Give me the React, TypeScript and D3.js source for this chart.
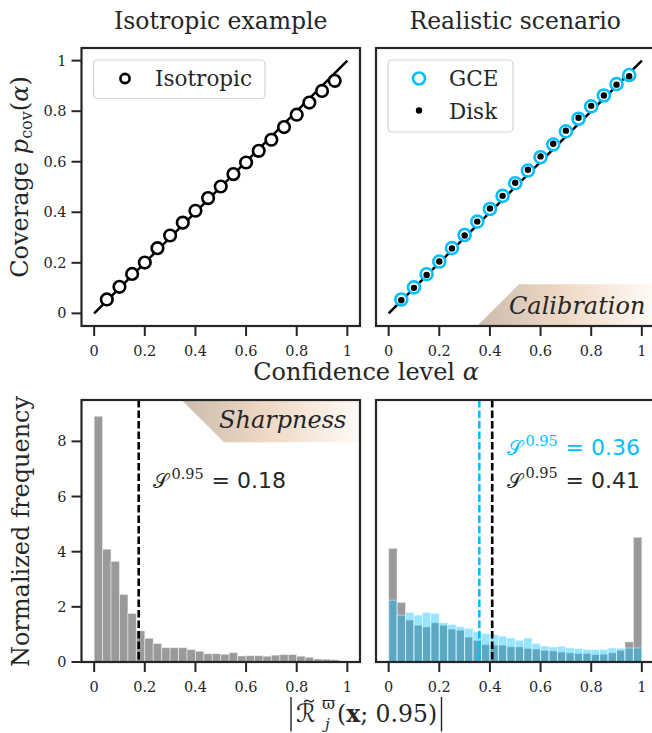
import React from 'react';
import * as d3 from 'd3';

// ---------- data ----------
const alphas = [0.05, 0.1, 0.15, 0.2, 0.25, 0.3, 0.35, 0.4, 0.45, 0.5, 0.55, 0.6, 0.65, 0.7, 0.75, 0.8, 0.85, 0.9, 0.95];
const isoCoverage = [0.055, 0.105, 0.156, 0.201, 0.258, 0.308, 0.359, 0.406, 0.456, 0.502, 0.551, 0.597, 0.643, 0.687, 0.737, 0.786, 0.834, 0.88, 0.92];
const gceCoverage = [0.055, 0.103, 0.155, 0.205, 0.258, 0.31, 0.363, 0.413, 0.465, 0.515, 0.565, 0.618, 0.668, 0.72, 0.77, 0.819, 0.862, 0.907, 0.943];
const diskCoverage = [0.052, 0.101, 0.152, 0.205, 0.257, 0.308, 0.363, 0.415, 0.465, 0.517, 0.568, 0.621, 0.671, 0.723, 0.774, 0.821, 0.862, 0.905, 0.938];

const binCount = 30;
const isoHist = [8.91, 4.09, 3.65, 2.45, 1.76, 1.13, 0.86, 0.67, 0.52, 0.52, 0.52, 0.45, 0.39, 0.3, 0.3, 0.28, 0.34, 0.22, 0.23, 0.23, 0.21, 0.25, 0.27, 0.27, 0.21, 0.17, 0.11, 0.1, 0.08, 0.04];
const diskHist = [4.12, 2.16, 1.52, 1.33, 1.27, 1.42, 1.33, 1.19, 1.15, 0.9, 0.78, 0.63, 0.61, 0.61, 0.55, 0.55, 0.49, 0.47, 0.42, 0.4, 0.36, 0.33, 0.31, 0.31, 0.27, 0.28, 0.33, 0.42, 0.73, 4.52];
const gceHist = [2.24, 1.7, 1.8, 1.7, 1.8, 1.76, 1.43, 1.36, 1.28, 1.22, 1.1, 1.03, 1.0, 0.94, 0.87, 0.79, 0.87, 0.67, 0.58, 0.55, 0.57, 0.51, 0.49, 0.45, 0.45, 0.45, 0.51, 0.5, 0.51, 0.51];

const sharpIso = 0.176;
const sharpGce = 0.358;
const sharpDisk = 0.409;

const xTicks = [0, 0.2, 0.4, 0.6, 0.8, 1];
const yTicksTop = [0, 0.2, 0.4, 0.6, 0.8, 1];
const yTicksBottom = [0, 2, 4, 6, 8];

// ---------- style ----------
const INK = '#262626';
const BLUE = '#00bfff';
const SERIF = "'DejaVu Serif', serif";
const SANS = "'DejaVu Sans', sans-serif";

const L = { x0: 81.5, x1: 360 };
const R = { x0: 376, x1: 654.5 };
const T = { y0: 48, y1: 326 };
const B = { y0: 400, y1: 662 };

const fmt = (v: number) => (v === 0 ? '0' : v === 1 ? '1' : String(v));

function XAxis({ x, y }: { x: d3.ScaleLinear<number, number>; y: number }) {
  return (
    <g>
      {xTicks.map((t) => (
        <g key={t}>
          <line x1={x(t)} x2={x(t)} y1={y} y2={y + 10} stroke={INK} strokeWidth={2} />
          <text x={x(t)} y={y + 29.5} textAnchor="middle" fontFamily={SERIF} fontSize={14.5} fill={INK}>
            {fmt(t)}
          </text>
        </g>
      ))}
    </g>
  );
}

function YAxis({ y, x, ticks }: { y: d3.ScaleLinear<number, number>; x: number; ticks: number[] }) {
  return (
    <g>
      {ticks.map((t) => (
        <g key={t}>
          <line x1={x - 10} x2={x} y1={y(t)} y2={y(t)} stroke={INK} strokeWidth={2} />
          <text x={x - 15} y={y(t) + 5} textAnchor="end" fontFamily={SERIF} fontSize={14.5} fill={INK}>
            {fmt(t)}
          </text>
        </g>
      ))}
    </g>
  );
}

function Frame({ x0, x1, y0, y1 }: { x0: number; x1: number; y0: number; y1: number }) {
  return <rect x={x0} y={y0} width={x1 - x0} height={y1 - y0} fill="none" stroke={INK} strokeWidth={2.2} />;
}

function Bars({ data, x, y, fill, opacity }: { data: number[]; x: d3.ScaleLinear<number, number>; y: d3.ScaleLinear<number, number>; fill: string; opacity: number }) {
  const edges = d3.range(binCount + 1).map((i) => i / binCount);
  return (
    <g>
      {data.map((v, i) => (
        <rect
          key={i}
          x={x(edges[i])}
          y={y(v)}
          width={x(edges[i + 1]) - x(edges[i])}
          height={y(0) - y(v)}
          fill={fill}
          fillOpacity={opacity}
          stroke="#ffffff"
          strokeOpacity={0.45}
          strokeWidth={1}
        />
      ))}
    </g>
  );
}

function SLabel({ x, y, value, color }: { x: number; y: number; value: number; color: string }) {
  return (
    <g fill={color}>
      <text x={x} y={y} fontFamily={SERIF} fontSize={20}>𝒮</text>
      <text x={x + 19} y={y - 9.5} fontFamily={SERIF} fontSize={14.5}>0.95</text>
      <text x={x + 59} y={y} fontFamily={SANS} fontSize={22}>= {value.toFixed(2)}</text>
    </g>
  );
}

export default function App() {
  const xL = d3.scaleLinear().domain([-0.05, 1.05]).range([L.x0, L.x1]);
  const xR = d3.scaleLinear().domain([-0.05, 1.05]).range([R.x0, R.x1]);
  const yT = d3.scaleLinear().domain([-0.05, 1.05]).range([T.y1, T.y0]);
  const yB = d3.scaleLinear().domain([0, 9.5]).range([B.y1, B.y0]);

  const calY0 = 284.3;
  const sharpY1 = 442.3;

  return (
    <svg width={652} height={733} style={{ position: 'absolute', left: 0, top: 0, background: '#fff' }}>
      <defs>
        <linearGradient id="tan" x1="0" x2="1" y1="0" y2="0">
          <stop offset="0" stopColor="#ccbcad" />
          <stop offset="0.5" stopColor="#efdac6" />
          <stop offset="1" stopColor="#fffaf6" />
        </linearGradient>
        <clipPath id="clipR">
          <rect x={R.x0} y={0} width={R.x1 - R.x0} height={733} />
        </clipPath>
      </defs>
      <rect x={0} y={0} width={652} height={733} fill="#fff" />

      {/* titles */}
      <text x={(L.x0 + L.x1) / 2} y={29} textAnchor="middle" fontFamily={SERIF} fontSize={23.5} fill={INK}>Isotropic example</text>
      <text x={(R.x0 + R.x1) / 2} y={29} textAnchor="middle" fontFamily={SERIF} fontSize={23.5} fill={INK}>Realistic scenario</text>

      {/* ---- top left ---- */}
      <line x1={xL(0)} y1={yT(0)} x2={xL(1)} y2={yT(1)} stroke="#000" strokeWidth={2.5} />
      {alphas.map((a, i) => (
        <circle key={i} cx={xL(a)} cy={yT(isoCoverage[i])} r={5.8} fill="#fff" stroke="#000" strokeWidth={2.6} />
      ))}
      <rect x={93.5} y={60} width={171.5} height={38.5} rx={4} fill="#fff" fillOpacity={0.8} stroke="#d4d4d4" strokeWidth={1.2} />
      <circle cx={125} cy={78.5} r={4.6} fill="#fff" stroke="#000" strokeWidth={2.6} />
      <text x={155} y={86} fontFamily={SERIF} fontSize={21.5} fill={INK}>Isotropic</text>

      {/* ---- top right ---- */}
      <polygon
        points={`${xR(0.35)},${T.y1} ${xR(0.35) + (T.y1 - calY0)},${calY0} ${R.x1},${calY0} ${R.x1},${T.y1}`}
        fill="url(#tan)"
      />
      <text x={509} y={313.5} fontFamily={SERIF} fontSize={24} fontStyle="italic" fill={INK}>Calibration</text>
      <line x1={xR(0)} y1={yT(0)} x2={xR(1)} y2={yT(1)} stroke="#000" strokeWidth={2.5} />
      {alphas.map((a, i) => (
        <circle key={i} cx={xR(a)} cy={yT(gceCoverage[i])} r={6} fill="#fff" stroke={BLUE} strokeWidth={2.6} />
      ))}
      {alphas.map((a, i) => (
        <circle key={'d' + i} cx={xR(a)} cy={yT(diskCoverage[i])} r={3.2} fill="#000" />
      ))}
      <rect x={388} y={60} width={125} height={72} rx={4} fill="#fff" fillOpacity={0.8} stroke="#d4d4d4" strokeWidth={1.2} />
      <circle cx={419} cy={78.5} r={6} fill="#fff" stroke={BLUE} strokeWidth={2.6} />
      <text x={449} y={86} fontFamily={SERIF} fontSize={21.5} fill={INK}>GCE</text>
      <circle cx={419} cy={110.5} r={3.2} fill="#000" />
      <text x={449} y={118.5} fontFamily={SERIF} fontSize={21.5} fill={INK}>Disk</text>

      <Frame x0={L.x0} x1={L.x1} y0={T.y0} y1={T.y1} />
      <Frame x0={R.x0} x1={R.x1} y0={T.y0} y1={T.y1} />
      <XAxis x={xL} y={T.y1} />
      <XAxis x={xR} y={T.y1} />
      <YAxis y={yT} x={L.x0} ticks={yTicksTop} />

      <text x={366} y={380} textAnchor="middle" fontFamily={SERIF} fontSize={24} fill={INK}>
        Confidence level <tspan fontStyle="italic">α</tspan>
      </text>
      <text transform="translate(28,177) rotate(-90)" textAnchor="middle" fontFamily={SERIF} fontSize={24} fill={INK}>
        Coverage <tspan fontStyle="italic">p</tspan>
        <tspan fontSize={16} dy={4}>cov</tspan>
        <tspan dy={-4}>(</tspan>
        <tspan fontStyle="italic">α</tspan>)
      </text>

      {/* ---- bottom left ---- */}
      <Bars data={isoHist} x={xL} y={yB} fill="#9a9a9a" opacity={1} />
      <line x1={xL(sharpIso)} x2={xL(sharpIso)} y1={B.y0} y2={B.y1} stroke="#000" strokeWidth={2.6} strokeDasharray="7.5,3" />
      <polygon
        points={`${181.7},${B.y0} ${181.7 + (sharpY1 - B.y0)},${sharpY1} ${L.x1},${sharpY1} ${L.x1},${B.y0}`}
        fill="url(#tan)"
      />
      <text x={219} y={428} fontFamily={SERIF} fontSize={24} fontStyle="italic" fill={INK}>Sharpness</text>
      <SLabel x={152.5} y={488} value={sharpIso} color={INK} />

      {/* ---- bottom right ---- */}
      <g clipPath="url(#clipR)">
        <Bars data={diskHist} x={xR} y={yB} fill="#9a9a9a" opacity={1} />
        <Bars data={gceHist} x={xR} y={yB} fill={BLUE} opacity={0.4} />
        <line x1={xR(sharpGce)} x2={xR(sharpGce)} y1={B.y0} y2={B.y1} stroke={BLUE} strokeWidth={2.6} strokeDasharray="7.5,3" />
        <line x1={xR(sharpDisk)} x2={xR(sharpDisk)} y1={B.y0} y2={B.y1} stroke="#000" strokeWidth={2.6} strokeDasharray="7.5,3" />
      </g>
      <SLabel x={506.5} y={455} value={sharpGce} color={BLUE} />
      <SLabel x={506.5} y={487.5} value={sharpDisk} color={INK} />

      <Frame x0={L.x0} x1={L.x1} y0={B.y0} y1={B.y1} />
      <Frame x0={R.x0} x1={R.x1} y0={B.y0} y1={B.y1} />
      <XAxis x={xL} y={B.y1} />
      <XAxis x={xR} y={B.y1} />
      <YAxis y={yB} x={L.x0} ticks={yTicksBottom} />

      <text transform="translate(29,531.5) rotate(-90)" textAnchor="middle" fontFamily={SERIF} fontSize={24} fill={INK}>
        Normalized frequency
      </text>

      {/* bottom x label: |R~_j^varpi(x; 0.95)| */}
      <g fill={INK}>
        <line x1={291} x2={291} y1={697} y2={731.5} stroke={INK} strokeWidth={1.4} />
        <text x={296} y={722} fontFamily={SANS} fontSize={25} fontStyle="italic">ℛ</text>
        <path d="M304,702 q2.5,-3 5,-1 t5,-1" fill="none" stroke={INK} strokeWidth={1.3} />
        <text x={322} y={709} fontFamily={SERIF} fontSize={16}>ϖ</text>
        <text x={325} y={729} fontFamily={SERIF} fontSize={15} fontStyle="italic">j</text>
        <text x={337} y={722} fontFamily={SERIF} fontSize={23.5}>
          (<tspan fontWeight="bold">x</tspan>; 0.95)
        </text>
        <line x1={441.5} x2={441.5} y1={697} y2={731.5} stroke={INK} strokeWidth={1.4} />
      </g>
    </svg>
  );
}
